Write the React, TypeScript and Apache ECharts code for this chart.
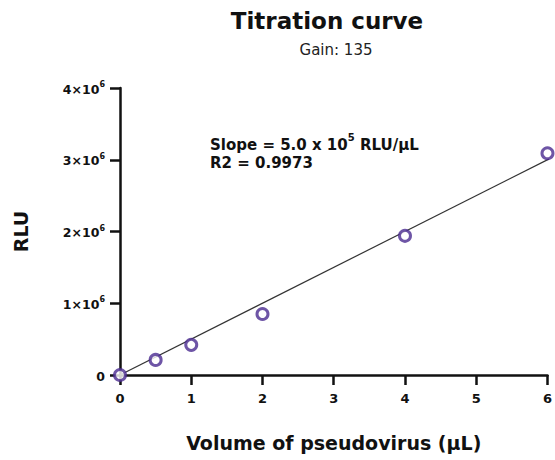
import React, { useEffect, useRef } from "react";
import * as echarts from "echarts";

const volumes = [0, 0.5, 1, 2, 4, 6];
const rlu = [0, 0.21e6, 0.42e6, 0.85e6, 1.94e6, 3.09e6];
const fitX = [0, 6.1];
const fitY = [0, 3.05e6];
const xTicks = [0, 1, 2, 3, 4, 5, 6];
const yTickMantissa = ["0", "1×10", "2×10", "3×10", "4×10"];
const yTickExponent = "6";

const BOLD = "'DejaVu Sans', sans-serif";

export default function App() {
  const ref = useRef<HTMLDivElement>(null);
  useEffect(() => {
    document.body.style.margin = "0";
    const chart = echarts.init(ref.current!, undefined, { renderer: "svg" });
    chart.setOption({
      animation: false,
      backgroundColor: "#fff",
      grid: { left: 120, right: 5, top: 88, bottom: 85, containLabel: false },
      xAxis: {
        type: "value",
        min: 0,
        max: 6,
        interval: 1,
        name: "Volume of pseudovirus (µL)",
        nameLocation: "middle",
        nameGap: 58,
        nameTextStyle: { fontFamily: BOLD, fontWeight: "bold", fontSize: 19, color: "#111" },
        axisLine: { show: true, onZero: false, lineStyle: { color: "#111", width: 2.5 } },
        axisTick: { show: true, inside: false, length: 10, lineStyle: { color: "#111", width: 2.5 } },
        axisLabel: {
          fontFamily: BOLD, fontWeight: "bold", fontSize: 13, color: "#111", margin: 17,
          formatter: (v: number) => (xTicks.includes(v) ? String(v) : ""),
        },
        splitLine: { show: false },
      },
      yAxis: {
        type: "value",
        min: 0,
        max: 4e6,
        interval: 1e6,
        name: "RLU",
        nameLocation: "middle",
        nameGap: 90,
        nameRotate: 90,
        nameTextStyle: { fontFamily: BOLD, fontWeight: "bold", fontSize: 19, color: "#111" },
        axisLine: { show: true, lineStyle: { color: "#111", width: 2.5 } },
        axisTick: { show: true, length: 10, lineStyle: { color: "#111", width: 2.5 } },
        axisLabel: {
          color: "#111",
          margin: 15,
          formatter: (v: number) => {
            const i = Math.round(v / 1e6);
            if (i === 0) return "{m|0}";
            return `{m|${yTickMantissa[i] ?? ""}}{e|${yTickExponent}}`;
          },
          rich: {
            m: { fontFamily: BOLD, fontWeight: "bold", fontSize: 12.5, color: "#111", verticalAlign: "bottom", lineHeight: 15 },
            e: { fontFamily: BOLD, fontWeight: "bold", fontSize: 8, color: "#111", verticalAlign: "top", lineHeight: 15 },
          },
        },
        splitLine: { show: false },
      },
      series: [
        {
          type: "line",
          data: fitX.map((x, i) => [x, fitY[i]]),
          symbol: "none",
          lineStyle: { color: "#333", width: 1.2 },
          z: 2,
          clip: true,
        },
        {
          type: "scatter",
          data: volumes.map((x, i) => [x, rlu[i]]),
          symbol: "circle",
          symbolSize: 11,
          itemStyle: { color: "#fff", borderColor: "#4a2a90", borderWidth: 3 },
          z: 5,
          clip: false,
        },
      ],
      graphic: [
        {
          type: "text",
          x: 327,
          y: 21,
          style: {
            text: "Titration curve",
            font: `bold 23px ${BOLD}`,
            fill: "#111",
            textAlign: "center",
            textVerticalAlign: "middle",
          },
        },
        {
          type: "text",
          x: 336,
          y: 50,
          style: {
            text: "Gain: 135",
            font: `15px ${BOLD}`,
            fill: "#222",
            textAlign: "center",
            textVerticalAlign: "middle",
          },
        },
        {
          type: "text",
          x: 210,
          y: 132,
          style: {
            text: "{b|Slope = 5.0 x 10}{s|5}{b| RLU/µL}",
            rich: {
              b: { font: `bold 15px ${BOLD}`, fill: "#111", verticalAlign: "bottom", lineHeight: 20 },
              s: { font: `bold 10px ${BOLD}`, fill: "#111", verticalAlign: "top", lineHeight: 20 },
            },
          },
        },
        {
          type: "text",
          x: 210,
          y: 163,
          style: {
            text: "R2 = 0.9973",
            font: `bold 15px ${BOLD}`,
            fill: "#111",
            textVerticalAlign: "middle",
          },
        },
      ],
    });
    return () => chart.dispose();
  }, []);
  return <div ref={ref} style={{ width: 555, height: 460 }} />;
}
